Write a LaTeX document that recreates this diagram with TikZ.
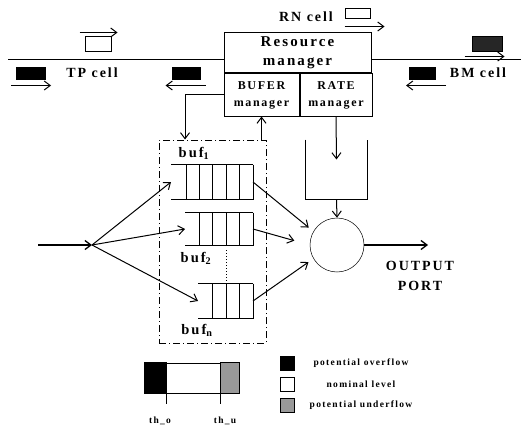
\documentclass[tikz,border=0pt]{standalone}
\usepackage{fontspec}
\setmainfont{Liberation Serif}
\newfontfamily\widefont{Liberation Serif}[LetterSpace=14]
\usetikzlibrary{arrows.meta, positioning}

\begin{document}
\begin{tikzpicture}[x=1pt, y=-1pt, line width=1pt, >={Straight Barb[length=6pt,width=9pt]},
    every node/.style={font=\bfseries},
    mgr/.style={rectangle, draw, inner sep=0pt, align=center, font=\widefont\bfseries\fontsize{12}{17}\selectfont},
    cell/.style={rectangle, draw, inner sep=0pt, minimum width=28pt, minimum height=13pt},
    queue/.style={inner sep=0pt, anchor=east},
    lbl/.style={font=\widefont\bfseries\fontsize{14}{20}\selectfont, align=center},
    key/.style={rectangle, draw, inner sep=0pt, minimum size=14pt},
    keytxt/.style={font=\widefont\bfseries\fontsize{9.5}{10}\selectfont}]
    \useasboundingbox (0,0) rectangle (525,428);
    % resource manager
    \node[mgr, minimum width=147pt, minimum height=40pt, font=\widefont\bfseries\fontsize{15}{19}\selectfont] (rm) at (297.5,53) {Resource\\manager};
    \node[mgr, minimum width=75pt, minimum height=42pt, anchor=north west] (bufm) at (rm.south west) {BUFER\\manager};
    \node[mgr, minimum width=72pt, minimum height=42pt, anchor=north west] (rtm) at (bufm.north east) {RATE\\manager};
    \coordinate (lineL) at (8,60);
    \coordinate (lineR) at (521,60);
    \draw (lineL) -- (lineL -| rm.west);
    \draw (lineR -| rm.east) -- (lineR);
    % cells on the link
    \node[cell, fill=black, minimum width=29pt, minimum height=12pt] (tpl) at (31,74) {};
    \draw[->] ([xshift=-5pt,yshift=-5pt]tpl.south west) -- ++(40,0);
    \node[lbl] (tp) at (92,73) {TP cell};
    \node[cell, fill=white, minimum width=26pt, minimum height=15pt] (tpw) at (98,44.5) {};
    \draw[->] ([xshift=-5pt,yshift=4pt]tpw.north west) -- ++(38,0);
    \node[cell, fill=black, minimum height=12pt] (tpr) at (186,74) {};
    \draw[->] ([xshift=5pt,yshift=-5pt]tpr.south east) -- ++(-40,0);
    \node[cell, fill=white, minimum width=25pt, minimum height=10pt] (rnc) at (357.5,14) {};
    \draw[->] ([yshift=-7pt]rnc.south west) -- ++(40,0);
    \node[lbl] (rn) at (306,17) {RN cell};
    \node[cell, fill=black!85, minimum width=30pt, minimum height=15pt] (bmt) at (487,44.5) {};
    \draw[->] ([xshift=-7pt,yshift=-4pt]bmt.south west) -- ++(40,0);
    \node[cell, fill=black, minimum width=26pt, minimum height=12pt] (bmc) at (422.5,74) {};
    \draw[->] ([xshift=10pt,yshift=-5pt]bmc.south east) -- ++(-40,0);
    \node[lbl] (bm) at (478,73) {BM cell};
    % buffers
    \node[draw, dash pattern=on 7pt off 3pt on 1pt off 3pt, minimum width=107pt, minimum height=203pt, inner sep=0pt] (grp) at (212.5,241.5) {};
    \node[queue, minimum width=81pt, minimum height=34pt] (b1) at (253,182) {};
    \node[queue, minimum width=67pt, minimum height=32pt] (b2) at (253,229) {};
    \node[queue, minimum width=54pt, minimum height=34pt] (bn) at (253,301) {};
    \foreach \q/\n in {b1/5, b2/4, bn/3} {
        \draw (\q.north west) -- (\q.north east) (\q.south west) -- (\q.south east);
        \foreach \i in {0,...,\n}
            \draw ([xshift=-\i*13.4pt]\q.north east) -- ([xshift=-\i*13.4pt]\q.south east);
    }
    \draw[dotted] (226,250) -- (226,282);
    \node[font=\widefont\bfseries\fontsize{14.5}{16}\selectfont] (lb1) at (194,153) {buf\textsubscript{1}};
    \node[font=\widefont\bfseries\fontsize{14.5}{16}\selectfont] (lb2) at (196,258) {buf\textsubscript{2}};
    \node[font=\widefont\bfseries\fontsize{14.5}{16}\selectfont] (lbn) at (197,330) {buf\textsubscript{n}};
    \draw[->] (bufm.west) -| ([xshift=-27.5pt]grp.north);
    \draw[->] (bufm.south |- grp.north) -- (bufm.south);
    % input
    \coordinate (in) at (38,245);
    \coordinate (split) at (92,245);
    \draw[->, line width=1.3pt] (in) -- (split);
    \draw[->] (split) -- (b1.west);
    \draw[->] (split) -- (b2.west);
    \draw[->] (split) -- (bn.west);
    % output port
    \node[minimum width=61pt, minimum height=59pt, inner sep=0pt] (oq) at (336.5,169.5) {};
    \draw (oq.north west) -- (oq.south west) -- (oq.south east) -- (oq.north east);
    \node[circle, draw, line width=0.5pt, minimum size=54pt, inner sep=0pt] (port) at (337,245) {};
    \draw[->] (rtm.south) -- ([yshift=10pt]oq.center);
    \draw[->] (oq.south) -- (port.north);
    \draw[->, shorten >=6pt] (b1.east) -- (port.150);
    \draw[->, shorten >=16pt] (b2.east) -- (port.west);
    \draw[->, shorten >=6pt] (bn.east) -- (port.210);
    \coordinate (outend) at (428,245);
    \draw[->, line width=1.3pt] (port.east) -- (outend);
    \node[lbl] (outlbl) at (420,276) {OUTPUT\\PORT};
    % buffer level
    \node[draw, minimum width=94pt, minimum height=30pt, inner sep=0pt] (lvl) at (192,378) {};
    \draw[fill=black] (lvl.north west) rectangle ([xshift=22pt]lvl.south west);
    \draw[fill=black!40] ([xshift=-19pt]lvl.north east) rectangle (lvl.south east);
    \draw ([xshift=22pt]lvl.south west) -- ++(0,10);
    \draw ([xshift=-19pt]lvl.south east) -- ++(0,10);
    \node[keytxt] (tho) at (160,421) {th\_o};
    \node[keytxt] (thu) at (225,421) {th\_u};
    % legend
    \node[key, fill=black] (k1) at (287,363.5) {};
    \node[key, fill=white] (k2) at (287,384) {};
    \node[key, fill=black!40] (k3) at (287,405) {};
    \node[keytxt] (t1) at (361,363.5) {potential overflow};
    \node[keytxt] (t2) at (361,384) {nominal level};
    \node[keytxt] (t3) at (361,405) {potential underflow};
\end{tikzpicture}
\end{document}
